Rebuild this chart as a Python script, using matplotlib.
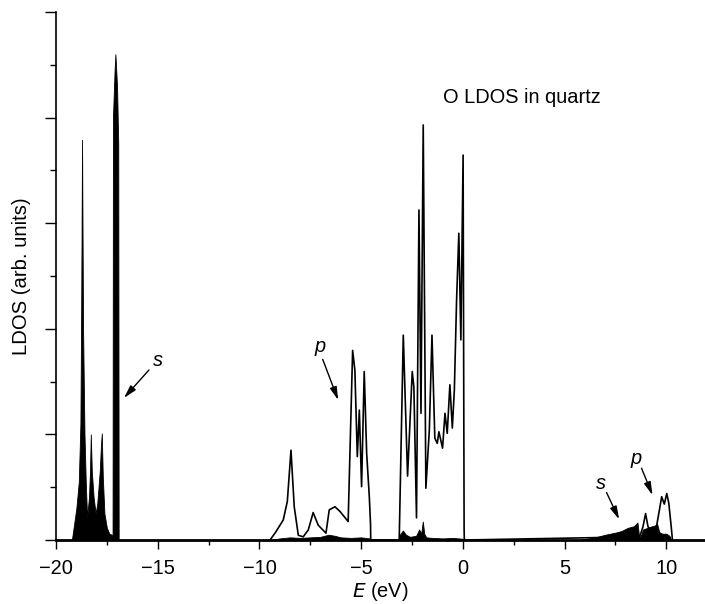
import matplotlib
matplotlib.use("Agg")
import matplotlib.pyplot as plt
from matplotlib.ticker import MultipleLocator

plt.rcParams['font.family'] = ['Liberation Sans', 'DejaVu Sans']

# s-projected LDOS (filled black), energies in eV
E_s = [-19.3, -19.22, -19.0, -18.88, -18.8, -18.76, -18.72, -18.67, -18.6, -18.53, -18.47,
       -18.38, -18.33, -18.29, -18.24, -18.15, -18.05, -17.97, -17.85, -17.79, -17.75,
       -17.7, -17.62, -17.5, -17.38, -17.26, -17.22, -17.2, -17.12, -17.08, -17.0,
       -16.94, -16.92,
       -9.5, -9.0, -8.5, -8.0, -7.5, -7.0, -6.6, -6.3, -6.0, -5.5, -5.0, -4.6, -4.5,
       -3.15, -3.1, -2.95, -2.8, -2.6, -2.3, -2.15, -2.05, -1.97, -1.9, -1.8, -1.5,
       -1.0, -0.5, -0.2, 0.05, 0.1,
       5.7, 6.0, 6.5, 7.0, 7.5, 7.8, 8.1, 8.4, 8.58, 8.65, 8.72, 8.85, 9.0, 9.2, 9.4,
       9.55, 9.65, 9.8, 10.0, 10.15, 10.25]
s_val = [0.0, 0.0, 0.6, 1.1, 2.2, 4.5, 7.58, 4.0, 2.0, 1.0, 0.43,
         0.8, 1.3, 2.0, 1.3, 0.8, 0.5, 0.7, 1.3, 1.8, 2.02,
         1.2, 0.5, 0.23, 0.12, 0.1, 0.1, 8.0, 8.9, 9.2, 8.6,
         7.5, 0.0,
         0.0, 0.03, 0.05, 0.04, 0.05, 0.06, 0.1, 0.08, 0.05, 0.04, 0.05, 0.03, 0.0,
         0.0, 0.1, 0.18, 0.1, 0.06, 0.08, 0.2, 0.12, 0.35, 0.12, 0.05, 0.04,
         0.03, 0.04, 0.03, 0.02, 0.0,
         0.0, 0.02, 0.05, 0.1, 0.14, 0.17, 0.23, 0.26, 0.33, 0.1, 0.05, 0.2, 0.22, 0.25, 0.27,
         0.3, 0.15, 0.12, 0.12, 0.08, 0.0]

# p-projected LDOS (line)
E_p = [-9.48, -9.2, -8.83, -8.63, -8.45, -8.29, -8.09, -7.85, -7.6, -7.36, -7.11, -6.73,
       -6.57, -6.29, -6.04, -5.64, -5.42, -5.31, -5.19, -5.09, -4.98, -4.85, -4.73, -4.6,
       -4.54, -4.53,
       -3.13, -3.12, -2.93, -2.72, -2.49, -2.41, -2.28, -2.16, -2.06, -1.95, -1.82, -1.65,
       -1.52, -1.38, -1.26, -1.18, -1.0, -0.88, -0.77, -0.64, -0.52, -0.42, -0.31, -0.2,
       -0.1, 0.01, 0.06, 0.07,
       8.69, 8.85, 8.98, 9.1, 9.2, 9.5, 9.66, 9.77, 9.9, 10.02, 10.12, 10.24, 10.3]
p_val = [0.0, 0.15, 0.38, 0.73, 1.70, 0.63, 0.09, 0.06, 0.19, 0.52, 0.28, 0.13,
         0.57, 0.63, 0.54, 0.35, 3.59, 3.22, 1.58, 2.46, 1.01, 3.19, 1.64, 0.82,
         0.3, 0.0,
         0.0, 0.2, 3.88, 1.21, 3.19, 2.9, 0.42, 6.25, 2.40, 7.86, 0.98, 2.08,
         3.88, 1.93, 1.83, 2.05, 1.74, 2.40, 2.02, 2.94, 2.12, 2.84, 4.55, 5.81,
         3.79, 7.29, 0.2, 0.0,
         0.06, 0.25, 0.5, 0.25, 0.2, 0.22, 0.57, 0.82, 0.68, 0.88, 0.7, 0.25, 0.0]

fig = plt.figure(figsize=(7.05, 6.04), dpi=100)
ax = fig.add_axes([56 / 705, 64 / 604, 649 / 705, 528 / 604])

ax.fill_between(E_s, s_val, 0, color='black', linewidth=0.6, edgecolor='black')
ax.plot(E_p, p_val, color='black', linewidth=1.2)

ax.set_xlim(-20, 11.9)
ax.set_ylim(0, 10)

ax.spines['top'].set_visible(False)
ax.spines['right'].set_visible(False)
ax.spines['bottom'].set_linewidth(2.0)
ax.spines['left'].set_linewidth(1.2)

ax.xaxis.set_major_locator(MultipleLocator(5))
ax.xaxis.set_minor_locator(MultipleLocator(2.5))
ax.yaxis.set_major_locator(MultipleLocator(2))
ax.yaxis.set_minor_locator(MultipleLocator(1))
ax.tick_params(axis='x', which='major', direction='out', length=6.5, width=1.0,
               labelsize=14.4, pad=7.5)
ax.tick_params(axis='x', which='minor', direction='out', length=3.5, width=1.0)
ax.tick_params(axis='y', which='major', direction='out', length=8, width=1.0, labelleft=False)
ax.tick_params(axis='y', which='minor', direction='out', length=4.5, width=1.0)

ax.set_xlabel('$\\it{E}$ (eV)', fontsize=14.4, labelpad=1)
ax.set_ylabel('LDOS (arb. units)', fontsize=14.6, labelpad=10)

ax.text(-0.98, 8.39, 'O LDOS in quartz', fontsize=14.4, ha='left', va='center')

arrow = dict(arrowstyle='-|>,head_length=0.6,head_width=0.16', color='black', lw=1.0,
             mutation_scale=13, shrinkA=0, shrinkB=0)
ax.annotate('', xy=(-16.66, 2.69), xytext=(-15.43, 3.22), arrowprops=arrow)
ax.text(-14.97, 3.4, 's', fontsize=14.4, style='italic', ha='center', va='center')
ax.annotate('', xy=(-6.13, 2.65), xytext=(-6.89, 3.42), arrowprops=arrow)
ax.text(-7.03, 3.66, 'p', fontsize=14.4, style='italic', ha='center', va='center')
ax.annotate('', xy=(7.68, 0.39), xytext=(7.06, 0.9), arrowprops=arrow)
ax.text(6.81, 1.07, 's', fontsize=14.4, style='italic', ha='center', va='center')
ax.annotate('', xy=(9.32, 0.85), xytext=(8.78, 1.36), arrowprops=arrow)
ax.text(8.53, 1.55, 'p', fontsize=14.4, style='italic', ha='center', va='center')

fig.savefig('out.png', dpi=100)
